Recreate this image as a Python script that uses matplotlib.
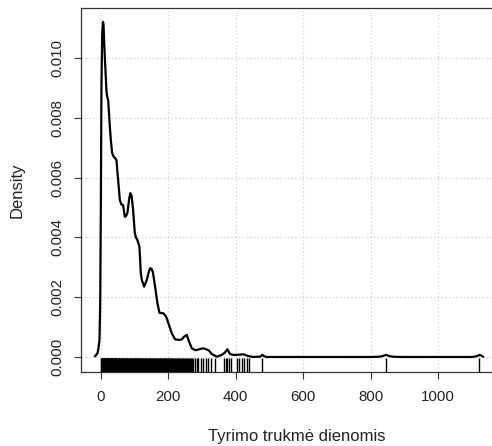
import matplotlib
matplotlib.use("Agg")
import matplotlib.pyplot as plt
import matplotlib.transforms as mtransforms

# Density curve (days, density)
curve_x = [-17, -13, -10, -7, -4, -2, 0, 1.8, 4, 6.5,
           8, 10, 12, 16.6, 19, 21.6, 24, 26.7, 29.6, 33.5,
           38, 41.5, 46.2, 51.3, 56.3, 61, 66, 71, 74, 78.8,
           84, 87.7, 91, 95.7, 100.7, 104, 108.4, 114.4, 118.5, 121.5,
           128.3, 136.3, 141, 146.1, 150, 154.1, 160.9, 167.7, 173.6, 185.5,
           193.5, 200.3, 210.4, 220.1, 232.9, 240, 246.8, 254.8, 259.6, 269.6,
           279.4, 284.4, 295, 304, 318.8, 328.9, 343.7, 358.5, 368, 375.1,
           383, 393, 403, 412, 422.5, 437.3, 452, 465, 472, 478.8,
           485, 491.8, 520, 600, 700, 800, 825, 835, 845, 855,
           865, 890, 950, 1050, 1100, 1112, 1124, 1133]
curve_y = [0.00003, 0.00008, 0.00013, 0.00029, 0.00057, 0.0017, 0.0050, 0.0090, 0.0108, 0.01121,
           0.0111, 0.0105, 0.0100, 0.0089, 0.0087, 0.0086, 0.0082, 0.0077, 0.00726, 0.00682,
           0.0067, 0.00666, 0.00659, 0.00592, 0.00525, 0.0051, 0.00508, 0.00469, 0.0047, 0.00482,
           0.0053, 0.00548, 0.0054, 0.00492, 0.00415, 0.0040, 0.00391, 0.00369, 0.0028, 0.00258,
           0.00235, 0.00258, 0.0028, 0.00297, 0.00295, 0.00285, 0.00235, 0.0018, 0.00148, 0.00146,
           0.00135, 0.00113, 0.00079, 0.00059, 0.00057, 0.00059, 0.00068, 0.00074, 0.00057, 0.00029,
           0.00023, 0.00023, 0.00027, 0.00029, 0.00023, 0.0001, 0.00001, 0.00007, 0.00015, 0.00026,
           0.0001, 0.00007, 0.00007, 0.00008, 0.00009, 0.00003, 0.0, 0.00001, 0.00001, 0.00007,
           0.00002, 0.0, 0.0, 0.0, 0.0, 0.0, 0.00001, 0.00003, 0.00007, 0.00003,
           0.00001, 0.0, 0.0, 0.0, 0.0, 0.00002, 0.00007, 0.00001]

# Observed durations shown as rug marks
rug_days = [0, 1, 2, 3, 4, 5, 6, 7, 8, 9, 10, 11, 12, 13, 14, 15, 16, 17, 18, 19,
            20, 21, 22, 23, 24, 25, 26, 27, 28, 29, 30, 31, 32, 33, 34, 35, 36, 37, 38, 39, 40,
            41, 42, 43, 45, 46, 48, 49, 51, 52, 54, 55, 57, 58, 60, 61, 63, 64, 66, 67, 69,
            70, 72, 73, 75, 76, 78, 79, 81, 82, 84, 85, 87, 88, 90, 91, 93, 94, 96, 97, 99,
            100, 102, 103, 105, 106, 108, 109, 111, 112, 114, 115, 117, 118, 120,
            122, 124, 126, 128, 130, 132, 134, 136, 138, 140, 142, 144, 146, 148, 150,
            152, 154, 156, 158, 160, 162, 164, 166, 168, 170, 172, 174, 176, 178, 180,
            182, 184, 186, 188, 190, 192, 194, 196, 198, 200, 202, 204, 206, 208, 211,
            213, 215, 218, 220, 223, 225, 228, 230, 233, 235, 238, 241, 243, 246, 249,
            252, 255, 258, 261, 264, 267, 270, 273,
            279, 284, 289, 296, 304, 312, 319, 326, 337,
            365, 370, 375, 381, 385, 403, 411, 418, 425, 433, 440, 479, 845, 1121]

x_ticks = [0, 200, 400, 600, 800, 1000]
y_ticks = [0.000, 0.002, 0.004, 0.006, 0.008, 0.010]
y_tick_labels = ["0.000", "0.002", "0.004", "0.006", "0.008", "0.010"]

plt.rcParams['font.family'] = ['Liberation Sans', 'DejaVu Sans']
FS = 10.8
FS_LAB = 12.0

W, H = 492, 446
fig = plt.figure(figsize=(W / 100, H / 100), dpi=100)
ax = fig.add_axes([81 / W, (H - 372) / H, (498.5 - 81) / W, (372 - 8) / H])

ax.set_xlim(-58.8, 1178.8)
ax.set_ylim(-0.000502, 0.011672)

ax.set_xticks(x_ticks)
ax.set_yticks(y_ticks)
ax.set_yticklabels(y_tick_labels, rotation=90, va='center')
ax.grid(True, linestyle=(0, (1, 2)), color='#d0d0d0', linewidth=0.9)
ax.set_axisbelow(True)

ax.plot(curve_x, curve_y, color='black', linewidth=1.6, solid_joinstyle='round', zorder=3)

trans = mtransforms.blended_transform_factory(ax.transData, ax.transAxes)
ax.vlines(rug_days, 0, 14 / 364, transform=trans, color='black', linewidth=1.0, zorder=3)

for s in ax.spines.values():
    s.set_color('#333333')
    s.set_linewidth(0.9)

ax.tick_params(axis='both', direction='out', length=5.2, width=0.8, color='#333333',
               labelsize=FS, labelcolor='#222222')
ax.tick_params(axis='x', pad=8)
ax.tick_params(axis='y', pad=7)

fig.text(297 / W, (H - 437) / H, "Tyrimo trukmė dienomis", ha='center', va='center',
         fontsize=FS_LAB, color='#222222')
fig.text(17 / W, (H - 190) / H, "Density", ha='center', va='center', rotation=90,
         fontsize=FS_LAB, color='#222222')

fig.savefig("out.png", dpi=100)
